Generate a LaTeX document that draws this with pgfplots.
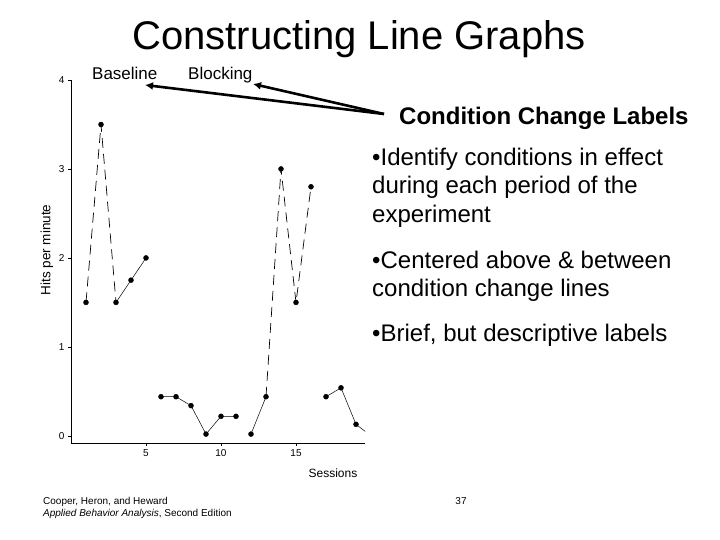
\documentclass[border=0pt]{standalone}
\usepackage{fontspec}
\setmainfont{Liberation Sans}
\usepackage{pgfplots}
\pgfplotsset{compat=1.18}
\usetikzlibrary{arrows.meta}

\begin{document}
\begin{tikzpicture}
\path[use as bounding box] (0pt,0pt) rectangle (720pt,540pt);

\begin{axis}[
  at={(71pt,97pt)}, anchor=south west,
  scale only axis, width=294pt, height=363pt,
  xmin=0, xmax=19.6, ymin=-0.08, ymax=4,
  axis x line*=bottom, axis y line*=left,
  xtick={5,10,15}, ytick={0,1,2,3,4},
  tick align=outside, major tick length=3pt,
  tick style={black, thin},
  tick label style={font=\fontsize{10}{12}\selectfont},
  /pgf/number format/assume math mode=true,
  xlabel={Sessions}, ylabel={Hits per minute},
  label style={font=\fontsize{12}{14}\selectfont},
  ylabel style={font=\fontsize{13.5}{15}\selectfont},
  xlabel style={at={(axis description cs:0.891,-0.0964)}, anchor=base},
  ylabel style={at={(axis description cs:-0.0816,0.532)}, anchor=center},
  mark size=2.5pt,
]
% baseline
\addplot[black, only marks, mark=*] coordinates {(1,1.5)(2,3.5)(3,1.5)(4,1.75)(5,2)};
\addplot[black, no marks, line width=0.7pt, dash pattern=on 10pt off 6pt] coordinates {(1,1.5)(2,3.5)(3,1.5)};
\addplot[black, no marks, line width=0.5pt] coordinates {(3,1.5)(4,1.75)(5,2)};
% blocking
\addplot[black, only marks, mark=*] coordinates {(6,0.44)(7,0.44)(8,0.34)(9,0.02)(10,0.22)(11,0.22)};
\addplot[black, no marks, line width=0.5pt] coordinates {(6,0.44)(7,0.44)(8,0.34)(9,0.02)(10,0.22)(11,0.22)};
% baseline again
\addplot[black, only marks, mark=*] coordinates {(12,0.02)(13,0.44)(14,3)(15,1.5)(16,2.8)};
\addplot[black, no marks, line width=0.5pt] coordinates {(12,0.02)(13,0.44)};
\addplot[black, no marks, line width=0.7pt, dash pattern=on 10pt off 6pt] coordinates {(13,0.44)(14,3)(15,1.5)(16,2.8)};
% blocking again
\addplot[black, only marks, mark=*] coordinates {(17,0.44)(18,0.54)(19,0.13)};
\addplot[black, no marks, line width=0.5pt] coordinates {(17,0.44)(18,0.54)(19,0.13)(20,0)};
\end{axis}

% title
\node[anchor=base, inner sep=0] at (359pt,490pt) {\fontsize{40}{48}\selectfont Constructing Line Graphs};

% condition labels and arrows
\node[anchor=base west, inner sep=0] at (92pt,460pt) {\fontsize{17}{20}\selectfont Baseline};
\node[anchor=base west, inner sep=0] at (188pt,460pt) {\fontsize{17}{20}\selectfont Blocking};
\draw[line width=2.6pt, -{Latex[length=8pt,width=8pt]}] (384pt,426pt) -- (145pt,455pt);
\draw[line width=2.6pt, -{Latex[length=8pt,width=8pt]}] (384pt,426pt) -- (253pt,456pt);

% text on the right
\node[anchor=base west, inner sep=0] at (399pt,415pt) {\fontsize{24}{28}\selectfont\bfseries Condition Change Labels};
\begin{scope}[every node/.style={anchor=base west, inner sep=0, font=\fontsize{24}{28}\selectfont}]
\node at (372pt,374pt) {•Identify conditions in effect};
\node at (372pt,346pt) {during each period of the};
\node at (372pt,317pt) {experiment};
\node at (372pt,271pt) {•Centered above \& between};
\node at (372pt,243pt) {condition change lines};
\node at (372pt,198pt) {•Brief, but descriptive labels};
\end{scope}

% footer
\node[anchor=base west, inner sep=0] at (43pt,35pt) {\fontsize{10}{12}\selectfont Cooper, Heron, and Heward};
\node[anchor=base west, inner sep=0] at (43pt,23pt) {\fontsize{10}{12}\selectfont\textit{Applied Behavior Analysis}, Second Edition};
\node[anchor=base, inner sep=0] at (461pt,35pt) {\fontsize{10}{12}\selectfont 37};
\end{tikzpicture}
\end{document}
